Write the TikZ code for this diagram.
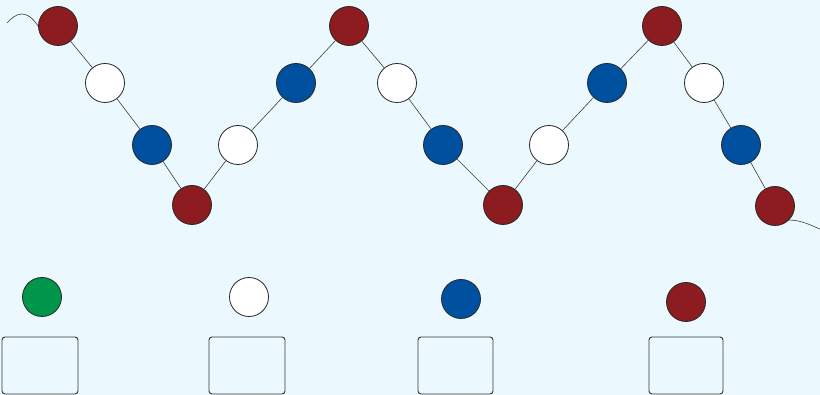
\documentclass[tikz,border=0pt]{standalone}
\definecolor{bg}{RGB}{235,249,254}
\definecolor{bead red}{RGB}{140,28,32}
\definecolor{bead blue}{RGB}{0,80,160}
\definecolor{bead green}{RGB}{0,150,75}
\definecolor{edge}{RGB}{60,60,60}
\pgfdeclarelayer{back}
\pgfdeclarelayer{links}
\pgfsetlayers{back,links,main}
\begin{document}
\begin{tikzpicture}[x=1pt,y=-1pt,
  bead/.style={circle,draw=black!85,line width=0.8pt,minimum size=39pt,inner sep=0pt},
  rb/.style={bead,fill=bead red},
  bb/.style={bead,fill=bead blue},
  wb/.style={bead,fill=white},
  gb/.style={bead,fill=bead green},
  link/.style={draw=edge,line width=0.6pt},
  slot/.style={draw=black!80,line width=0.9pt,rounded corners=3pt,minimum height=57pt}]
\begin{pgfonlayer}{back}
\fill[bg] (0,0) rectangle (820,395);
\end{pgfonlayer}
\useasboundingbox (0,0) rectangle (820,395);
% chain
\node[rb] (r1) at (58,26) {};
\node[wb] (w1) at (105,83) {};
\node[bb] (b1) at (152,145) {};
\node[rb] (r2) at (192,205) {};
\node[wb] (w2) at (238,145) {};
\node[bb] (b2) at (296,83) {};
\node[rb] (r3) at (349,26) {};
\node[wb] (w3) at (397,83) {};
\node[bb] (b3) at (443,145) {};
\node[rb] (r4) at (503,205) {};
\node[wb] (w4) at (549,145) {};
\node[bb] (b4) at (607,83) {};
\node[rb] (r5) at (662,26) {};
\node[wb] (w5) at (704,83) {};
\node[bb] (b5) at (741,145) {};
\node[rb] (r6) at (775,206) {};
\coordinate (lend) at (7,23);
\coordinate (rend) at (820,229);
\begin{pgfonlayer}{links}
\draw[link] (lend) .. controls (16,13) and (26,8) .. (r1.west);
\draw[link] (r6.south east) .. controls (802,220) and (812,226) .. (rend);
\foreach \a/\b in {r1/w1,w1/b1,b1/r2,r2/w2,w2/b2,b2/r3,r3/w3,w3/b3,b3/r4,r4/w4,w4/b4,b4/r5,r5/w5,w5/b5,b5/r6}
  \draw[link] (\a) -- (\b);
\end{pgfonlayer}
% legend beads and boxes
\node[gb] (g) at (42,297) {};
\node[wb] (lw) at (249,297) {};
\node[bb] (lb) at (461,299) {};
\node[rb] (lr) at (686,302) {};
\node[slot,minimum width=76pt] (s1) at (40,365.5) {};
\node[slot,minimum width=76pt] (s2) at (247,365.5) {};
\node[slot,minimum width=75pt] (s3) at (455.5,365.5) {};
\node[slot,minimum width=74pt] (s4) at (686,365.5) {};
\end{tikzpicture}
\end{document}
